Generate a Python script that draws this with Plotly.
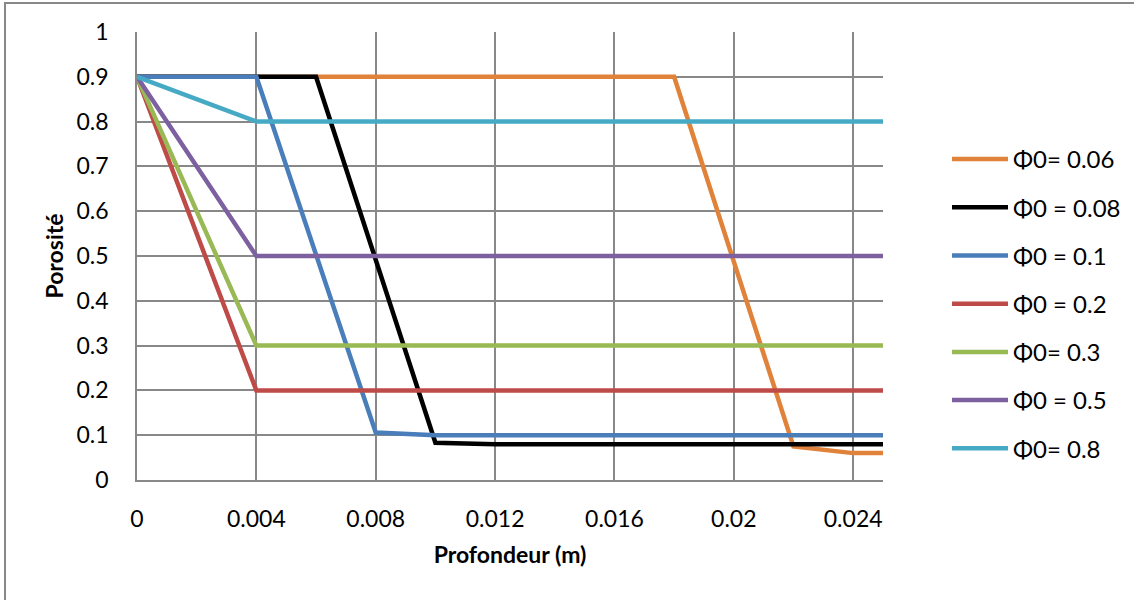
import plotly.graph_objects as go

names = ["Φ0= 0.06", "Φ0 = 0.08", "Φ0 = 0.1", "Φ0 = 0.2", "Φ0= 0.3", "Φ0 = 0.5", "Φ0= 0.8"]
colors = ["#E0823A", "#000000", "#4A7EBB", "#BE4B48", "#98B954", "#7D60A0", "#46AAC5"]

x_006 = [0, 0.018, 0.022, 0.024, 0.025]
y_006 = [0.9, 0.9, 0.075, 0.06, 0.06]
x_008 = [0, 0.006, 0.010, 0.012, 0.025]
y_008 = [0.9, 0.9, 0.083, 0.08, 0.08]
x_01 = [0, 0.004, 0.008, 0.010, 0.025]
y_01 = [0.9, 0.9, 0.106, 0.1, 0.1]
x_02 = [0, 0.004, 0.025]
y_02 = [0.9, 0.2, 0.2]
x_03 = [0, 0.004, 0.025]
y_03 = [0.9, 0.3, 0.3]
x_05 = [0, 0.004, 0.025]
y_05 = [0.9, 0.5, 0.5]
x_08 = [0, 0.004, 0.025]
y_08 = [0.9, 0.8, 0.8]

xs = [x_006, x_008, x_01, x_02, x_03, x_05, x_08]
ys = [y_006, y_008, y_01, y_02, y_03, y_05, y_08]

x_ticks = [0, 0.004, 0.008, 0.012, 0.016, 0.02, 0.024]
x_ticklabels = ["0", "0.004", "0.008", "0.012", "0.016", "0.02", "0.024"]
y_ticks = [0, 0.1, 0.2, 0.3, 0.4, 0.5, 0.6, 0.7, 0.8, 0.9, 1]
y_ticklabels = ["0", "0.1", "0.2", "0.3", "0.4", "0.5", "0.6", "0.7", "0.8", "0.9", "1"]

FONT = "Lato, 'Open Sans', sans-serif"

fig = go.Figure()
for i, (n, c, xv, yv) in enumerate(zip(names, colors, xs, ys)):
    fig.add_trace(go.Scatter(x=xv, y=yv, mode="lines", name=n,
                             line=dict(color=c, width=4.5),
                             legendgroup=f"g{i}"))

L, T, W, H = 137, 32, 746, 448
fig.update_layout(
    width=1134, height=600,
    margin=dict(l=L, r=1134 - L - W, t=T, b=600 - T - H, autoexpand=False),
    paper_bgcolor="white", plot_bgcolor="white",
    font=dict(family=FONT, size=23, color="black"),
    showlegend=True,
    legend=dict(x=(947 - L) / W, y=1 - (137 - T) / H, xanchor="left", yanchor="top",
                font=dict(family=FONT, size=24, color="black"),
                tracegroupgap=14, itemwidth=56, bgcolor="rgba(0,0,0,0)"),
    xaxis=dict(range=[0, 0.025], tickvals=x_ticks, ticktext=x_ticklabels,
               showgrid=True, gridcolor="#888888", gridwidth=1.5,
               showline=True, linecolor="#888888", linewidth=1.5,
               zeroline=False, ticks="", ticklabelstandoff=18,
               tickfont=dict(family=FONT, size=23),
               title=dict(text="<b>Profondeur (m)</b>", font=dict(family=FONT, size=23), standoff=16)),
    yaxis=dict(range=[0, 1], tickvals=y_ticks, ticktext=y_ticklabels,
               showgrid=True, gridcolor="#888888", gridwidth=1.5,
               showline=True, linecolor="#888888", linewidth=1.5,
               zeroline=False, ticks="", ticklabelstandoff=22,
               tickfont=dict(family=FONT, size=23),
               title=dict(text="<b>Porosité</b>", font=dict(family=FONT, size=23), standoff=6)),
    shapes=[dict(type="rect", xref="paper", yref="paper",
                 x0=(5 - L) / W, x1=(1140 - L) / W,
                 y0=1 - (610 - T) / H, y1=1 + (T - 3) / H,
                 line=dict(color="#888888", width=2), fillcolor="rgba(0,0,0,0)", layer="below")],
)

fig.write_html("out.html", config={"displayModeBar": False},
               post_script="document.body.style.margin='0';")
